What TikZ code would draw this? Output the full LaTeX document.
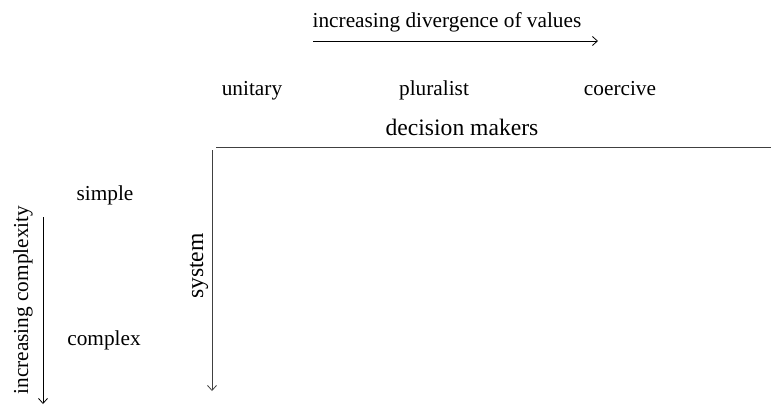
\documentclass[tikz,border=0pt]{standalone}
\usepackage{fontspec}
\setmainfont{Liberation Serif}
\usetikzlibrary{arrows.meta}
\begin{document}
\begin{tikzpicture}[x=1pt,y=-1pt,
  lbl/.style={inner sep=0pt,anchor=base,font=\fontsize{21.3}{25}\selectfont},
  big/.style={inner sep=0pt,anchor=base,font=\fontsize{23.6}{28}\selectfont},
  arr/.style={->,line width=0.8pt,>={Straight Barb[length=5pt,width=9pt]}}]
\useasboundingbox (0,0) rectangle (771,405);
\node[lbl] (div) at (447,27) {increasing divergence of values};
\coordinate (d1) at (313,41);
\coordinate (d2) at (598,41);
\draw[arr] (d1) -- (d2);
\node[lbl] (unitary) at (252,95) {unitary};
\node[lbl] (pluralist) at (434,95) {pluralist};
\node[lbl] (coercive) at (620,95) {coercive};
\node[big] (dm) at (462,135) {decision makers};
\coordinate (h1) at (216,147);
\coordinate (h2) at (771,147);
\draw[line width=1pt,black!75] (h1) -- (h2);
\coordinate (v1) at (212,150);
\coordinate (v2) at (212,391);
\draw[arr,black!75] (v1) -- (v2);
\node[big,rotate=90] (system) at (203,266) {system};
\node[lbl] (simple) at (105,200) {simple};
\node[lbl] (complex) at (104,345) {complex};
\node[lbl,rotate=90] (inc) at (28,300) {increasing complexity};
\coordinate (c1) at (43,217);
\coordinate (c2) at (43,404);
\draw[arr] (c1) -- (c2);
\end{tikzpicture}
\end{document}
